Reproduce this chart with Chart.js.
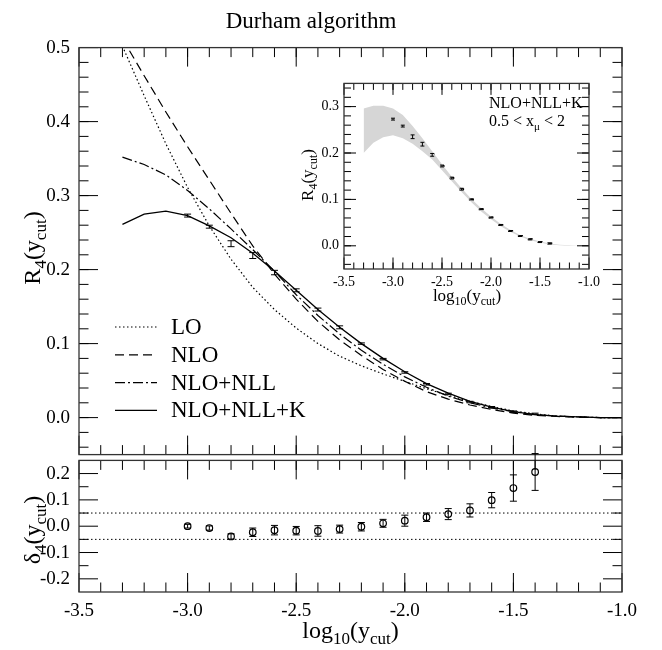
<!DOCTYPE html>
<html>
<head>
<meta charset="utf-8">
<script src="https://cdn.jsdelivr.net/npm/chart.js@4.4.0/dist/chart.umd.min.js"></script>
<style>
  html, body { margin: 0; padding: 0; background: #fff; }
  #wrap { position: relative; width: 662px; height: 650px; }
  canvas { position: absolute; }
  #mainChart { left: 0; top: 0; }
  #deltaChart { left: 0; top: 440px; }
  #insetChart { left: 280px; top: 70px; }
</style>
</head>
<body>
<div id="wrap">
  <canvas id="mainChart" width="662" height="475"></canvas>
  <canvas id="deltaChart" width="662" height="210"></canvas>
  <canvas id="insetChart" width="330" height="250"></canvas>
</div>
<script>
const FONT = '"Liberation Serif", "Times New Roman", serif';

// theory curves, log10(ycut) grid
const curveX = [-3.3, -3.2, -3.1, -3.0, -2.9, -2.8, -2.7, -2.6, -2.5, -2.4, -2.3, -2.2,
                -2.1, -2.0, -1.9, -1.8, -1.7, -1.6, -1.5, -1.4, -1.3, -1.2, -1.1, -1.0];
const loValues   = [0.502, 0.435, 0.370, 0.311, 0.259, 0.214, 0.176, 0.146, 0.121, 0.100, 0.083, 0.070,
                    0.059, 0.049, 0.039, 0.030, 0.022, 0.015, 0.009, 0.005, 0.002, 0.001, 0.000, 0.000];
const nloValues  = [0.512, 0.462, 0.413, 0.366, 0.321, 0.276, 0.232, 0.194, 0.160, 0.130, 0.105, 0.084,
                    0.065, 0.049, 0.035, 0.025, 0.017, 0.011, 0.006, 0.003, 0.0015, 0.0005, 0.000, 0.000];
const nllValues  = [0.352, 0.342, 0.328, 0.307, 0.282, 0.255, 0.227, 0.198, 0.166, 0.138, 0.113, 0.091,
                    0.072, 0.055, 0.041, 0.029, 0.020, 0.013, 0.008, 0.004, 0.002, 0.001, 0.000, 0.000];
const nllkValues = [0.261, 0.275, 0.279, 0.273, 0.259, 0.243, 0.222, 0.198, 0.172, 0.146, 0.122, 0.100,
                    0.080, 0.062, 0.046, 0.033, 0.022, 0.014, 0.008, 0.004, 0.002, 0.001, 0.000, 0.000];

// scale-variation band for the inset
const bandX    = [-3.3, -3.2, -3.1, -3.0, -2.9, -2.8, -2.7, -2.6, -2.5, -2.4, -2.3, -2.2,
                  -2.1, -2.0, -1.9, -1.8, -1.7, -1.6, -1.5, -1.4, -1.3, -1.2, -1.1];
const bandLow  = [0.200, 0.222, 0.234, 0.238, 0.232, 0.220, 0.204, 0.186, 0.163, 0.139, 0.116, 0.094,
                  0.074, 0.057, 0.042, 0.030, 0.020, 0.012, 0.007, 0.003, 0.001, 0.000, 0.000];
const bandHigh = [0.296, 0.302, 0.302, 0.296, 0.282, 0.258, 0.232, 0.204, 0.176, 0.149, 0.124, 0.101,
                  0.081, 0.063, 0.047, 0.034, 0.023, 0.015, 0.009, 0.005, 0.002, 0.001, 0.000];

// Monte Carlo points
const dataX = [-3.0, -2.9, -2.8, -2.7, -2.6, -2.5, -2.4, -2.3, -2.2, -2.1, -2.0, -1.9, -1.8, -1.7, -1.6, -1.5, -1.4];
const r4Values = [0.273, 0.258, 0.235, 0.219, 0.196, 0.172, 0.146, 0.122, 0.100, 0.079, 0.061, 0.045,
                  0.032, 0.021, 0.014, 0.008, 0.005];
const r4Errors = [0.002, 0.002, 0.004, 0.004, 0.003, 0.002, 0.002, 0.002, 0.001, 0.001, 0.001, 0.001,
                  0.001, 0.001, 0.001, 0.001, 0.001];
const deltaValues = [0.000, -0.007, -0.039, -0.023, -0.015, -0.017, -0.018, -0.011, -0.002, 0.011, 0.021, 0.034,
                     0.046, 0.060, 0.099, 0.145, 0.206];
const deltaErrors = [0.007, 0.008, 0.010, 0.016, 0.018, 0.016, 0.020, 0.015, 0.016, 0.015, 0.021, 0.016,
                     0.021, 0.025, 0.029, 0.050, 0.070];
const deltaBand = [-0.05, 0.05];

const xTickLabels = [-3.5, -3.0, -2.5, -2.0, -1.5, -1.0];
const r4TickLabels = [0.0, 0.1, 0.2, 0.3, 0.4, 0.5];
const deltaTickLabels = [-0.2, -0.1, 0.0, 0.1, 0.2];
const insetTickLabels = [0.0, 0.1, 0.2, 0.3];

const legendNames = ['LO', 'NLO', 'NLO+NLL', 'NLO+NLL+K'];

function pts(xs, ys) {
    return xs.map((x, i) => ({ x, y: ys[i] }));
}

function steps(from, to, step) {
    const out = [];
    for (let v = from; v <= to + 1e-9; v += step) out.push(Math.round(v * 1000) / 1000);
    return out;
}

const R4_TITLE = [['R', 0], ['4', 1], ['(y', 0], ['cut', 1], [')', 0]];
const DELTA_TITLE = [['δ', 0], ['4', 1], ['(y', 0], ['cut', 1], [')', 0]];
const LOG_TITLE = [['log', 0], ['10', 1], ['(y', 0], ['cut', 1], [')', 0]];

function drawRich(ctx, item) {
    const size = item.size;
    const fontOf = sub => `${sub ? Math.round(size * 0.7) : size}px ${FONT}`;
    ctx.save();
    ctx.translate(item.x, item.y);
    if (item.rotate) ctx.rotate(item.rotate);
    ctx.fillStyle = '#000';
    ctx.textBaseline = 'alphabetic';
    ctx.textAlign = 'left';
    let width = 0;
    item.parts.forEach(([text, sub]) => {
        ctx.font = fontOf(sub);
        width += ctx.measureText(text).width;
    });
    let cx = item.align === 'left' ? 0 : -width / 2;
    item.parts.forEach(([text, sub]) => {
        ctx.font = fontOf(sub);
        ctx.fillText(text, cx, sub ? size * 0.25 : 0);
        cx += ctx.measureText(text).width;
    });
    ctx.restore();
}

const richText = {
    id: 'richText',
    afterDraw(chart, args, opts) {
        (opts.items || []).forEach(item => drawRich(chart.ctx, item));
    }
};

// inward ticks on all four sides plus the frame
const frameTicks = {
    id: 'frameTicks',
    afterDatasetsDraw(chart, args, opts) {
        const { ctx, chartArea: a } = chart;
        const xs = chart.scales.x, ys = chart.scales.y;
        ctx.save();
        ctx.strokeStyle = '#000';
        ctx.lineWidth = 1;
        ctx.beginPath();
        const addX = (vals, len) => vals.forEach(v => {
            const p = xs.getPixelForValue(v);
            ctx.moveTo(p, a.bottom); ctx.lineTo(p, a.bottom - len);
            ctx.moveTo(p, a.top); ctx.lineTo(p, a.top + len);
        });
        const addY = (vals, len) => vals.forEach(v => {
            const p = ys.getPixelForValue(v);
            ctx.moveTo(a.left, p); ctx.lineTo(a.left + len, p);
            ctx.moveTo(a.right, p); ctx.lineTo(a.right - len, p);
        });
        addX(opts.xMinor, opts.minorX);
        addX(opts.xMajor, opts.majorX);
        addY(opts.yMinor, opts.minorY);
        addY(opts.yMajor, opts.majorY);
        ctx.stroke();
        ctx.strokeStyle = '#333';
        ctx.lineWidth = 1.3;
        ctx.strokeRect(a.left, a.top, a.right - a.left, a.bottom - a.top);
        ctx.restore();
    }
};

const errorBars = {
    id: 'errorBars',
    afterDatasetsDraw(chart) {
        const { ctx } = chart;
        const ys = chart.scales.y;
        chart.data.datasets.forEach((ds, i) => {
            if (!ds.errors) return;
            const meta = chart.getDatasetMeta(i);
            ctx.save();
            ctx.strokeStyle = '#000';
            ctx.lineWidth = 1;
            ctx.beginPath();
            meta.data.forEach((pt, j) => {
                const v = ds.data[j].y, e = ds.errors[j], c = ds.capSize;
                const top = ys.getPixelForValue(v + e);
                const bot = ys.getPixelForValue(v - e);
                ctx.moveTo(pt.x, top); ctx.lineTo(pt.x, bot);
                ctx.moveTo(pt.x - c, top); ctx.lineTo(pt.x + c, top);
                ctx.moveTo(pt.x - c, bot); ctx.lineTo(pt.x + c, bot);
            });
            ctx.stroke();
            ctx.restore();
        });
    }
};

const curveLegend = {
    id: 'curveLegend',
    afterDraw(chart, args, opts) {
        const { ctx } = chart;
        ctx.save();
        legendNames.forEach((name, i) => {
            const ds = chart.data.datasets[i];
            const y = opts.y + i * opts.rowH;
            ctx.strokeStyle = '#000';
            ctx.lineWidth = ds.borderWidth;
            ctx.setLineDash(ds.borderDash || []);
            ctx.beginPath();
            ctx.moveTo(opts.x, y);
            ctx.lineTo(opts.x + opts.lineLen, y);
            ctx.stroke();
            ctx.setLineDash([]);
            ctx.fillStyle = '#000';
            ctx.font = `23px ${FONT}`;
            ctx.textBaseline = 'middle';
            ctx.fillText(name, opts.x + opts.lineLen + 14, y + 1);
        });
        ctx.restore();
    }
};

const insetBackground = {
    id: 'insetBackground',
    beforeDatasetsDraw(chart) {
        const { ctx, chartArea: a } = chart;
        ctx.save();
        ctx.fillStyle = '#fff';
        ctx.fillRect(a.left, a.top, a.right - a.left, a.bottom - a.top);
        ctx.restore();
    }
};

function fixedTicks(values) {
    return scale => { scale.ticks = values.map(v => ({ value: v })); };
}

function curve(label, values, dash, width) {
    return {
        label,
        data: pts(curveX, values),
        borderColor: '#000',
        borderWidth: width,
        borderDash: dash,
        pointRadius: 0,
        tension: 0,
        fill: false
    };
}

const tickFont = { family: FONT, size: 19 };

new Chart(document.getElementById('mainChart'), {
    type: 'line',
    data: {
        datasets: [
            curve('LO', loValues, [1.5, 2.5], 1.2),
            curve('NLO', nloValues, [9, 5], 1.2),
            curve('NLO+NLL', nllValues, [10, 3, 2, 3], 1.2),
            curve('NLO+NLL+K', nllkValues, [], 1.3),
            {
                label: 'MC',
                data: pts(dataX, r4Values),
                errors: r4Errors,
                capSize: 3.5,
                showLine: false,
                pointRadius: 0
            }
        ]
    },
    options: {
        responsive: false,
        animation: false,
        devicePixelRatio: 1,
        layout: { padding: { left: 0, right: 40, top: 0, bottom: 0 } },
        scales: {
            x: {
                type: 'linear', min: -3.5, max: -1.0,
                ticks: { display: false },
                grid: { display: false, drawTicks: false },
                border: { display: false },
                afterFit: s => { s.height = 19; }
            },
            y: {
                type: 'linear', min: -0.05, max: 0.5,
                afterBuildTicks: fixedTicks(r4TickLabels),
                ticks: { callback: v => v.toFixed(1), font: tickFont, color: '#000', padding: 9 },
                grid: { display: false, drawTicks: false },
                border: { display: false },
                afterFit: s => { s.width = 79; }
            }
        },
        plugins: {
            legend: { display: false },
            tooltip: { enabled: false },
            title: {
                display: true,
                text: 'Durham algorithm',
                color: '#000',
                font: { family: FONT, size: 23, weight: 'normal' },
                padding: { top: 8, bottom: 12 }
            },
            frameTicks: {
                xMajor: xTickLabels, xMinor: steps(-3.4, -1.1, 0.1), majorX: 19, minorX: 9.5,
                yMajor: r4TickLabels, yMinor: steps(-0.04, 0.48, 0.02), majorY: 19, minorY: 9.5
            },
            curveLegend: { x: 115, y: 327, rowH: 27.8, lineLen: 42 },
            richText: { items: [{ parts: R4_TITLE, x: 40, y: 248, size: 24, rotate: -Math.PI / 2 }] }
        }
    },
    plugins: [frameTicks, errorBars, curveLegend, richText]
});

new Chart(document.getElementById('deltaChart'), {
    type: 'line',
    data: {
        datasets: deltaBand.map(v => ({
            label: 'band ' + v,
            data: [{ x: xTickLabels[0], y: v }, { x: xTickLabels[xTickLabels.length - 1], y: v }],
            borderColor: '#000',
            borderWidth: 1,
            borderDash: [1.5, 2.5],
            pointRadius: 0
        })).concat([{
            label: 'delta',
            data: pts(dataX, deltaValues),
            errors: deltaErrors,
            capSize: 3.5,
            showLine: false,
            pointStyle: 'circle',
            pointRadius: 3.3,
            pointBorderWidth: 1.2,
            pointBorderColor: '#000',
            pointBackgroundColor: 'rgba(255,255,255,0)'
        }])
    },
    options: {
        responsive: false,
        animation: false,
        devicePixelRatio: 1,
        layout: { padding: { left: 0, right: 40, top: 16, bottom: 0 } },
        scales: {
            x: {
                type: 'linear', min: -3.5, max: -1.0,
                afterBuildTicks: fixedTicks(xTickLabels),
                ticks: { callback: v => v.toFixed(1), font: tickFont, color: '#000', padding: 8, maxRotation: 0 },
                grid: { display: false, drawTicks: false },
                border: { display: false },
                afterFit: s => { s.height = 58; }
            },
            y: {
                type: 'linear', min: -0.25, max: 0.25,
                afterBuildTicks: fixedTicks(deltaTickLabels),
                ticks: { callback: v => v.toFixed(1), font: tickFont, color: '#000', padding: 9 },
                grid: { display: false, drawTicks: false },
                border: { display: false },
                afterFit: s => { s.width = 79; }
            }
        },
        plugins: {
            legend: { display: false },
            tooltip: { enabled: false },
            frameTicks: {
                xMajor: xTickLabels, xMinor: steps(-3.4, -1.1, 0.1), majorX: 19, minorX: 9.5,
                yMajor: deltaTickLabels, yMinor: [-0.15, -0.05, 0.05, 0.15], majorY: 19, minorY: 9.5
            },
            richText: {
                items: [
                    { parts: DELTA_TITLE, x: 40, y: 90, size: 24, rotate: -Math.PI / 2 },
                    { parts: LOG_TITLE, x: 350.5, y: 198, size: 24 }
                ]
            }
        }
    },
    plugins: [frameTicks, errorBars, richText]
});

const insetFont = { family: FONT, size: 14 };

new Chart(document.getElementById('insetChart'), {
    type: 'line',
    data: {
        datasets: [
            {
                label: 'low',
                data: pts(bandX, bandLow),
                borderWidth: 0,
                pointRadius: 0,
                fill: false
            },
            {
                label: 'high',
                data: pts(bandX, bandHigh),
                borderWidth: 0,
                pointRadius: 0,
                backgroundColor: '#d6d6d6',
                fill: '-1'
            },
            {
                label: 'MC',
                data: pts(dataX, r4Values),
                errors: r4Errors,
                capSize: 2,
                showLine: false,
                pointStyle: 'line',
                pointRadius: 2.5,
                pointBorderWidth: 2,
                pointBorderColor: '#000'
            }
        ]
    },
    options: {
        responsive: false,
        animation: false,
        devicePixelRatio: 1,
        layout: { padding: { left: 0, right: 21, top: 10, bottom: 0 } },
        scales: {
            x: {
                type: 'linear', min: -3.5, max: -1.0,
                afterBuildTicks: fixedTicks(xTickLabels),
                ticks: { callback: v => v.toFixed(1), font: insetFont, color: '#000', padding: 5, maxRotation: 0 },
                grid: { display: false, drawTicks: false },
                border: { display: false },
                afterFit: s => { s.height = 51; }
            },
            y: {
                type: 'linear', min: -0.05, max: 0.35,
                afterBuildTicks: fixedTicks(insetTickLabels),
                ticks: { callback: v => v.toFixed(1), font: insetFont, color: '#000', padding: 5 },
                grid: { display: false, drawTicks: false },
                border: { display: false },
                afterFit: s => { s.width = 64; }
            }
        },
        plugins: {
            legend: { display: false },
            tooltip: { enabled: false },
            filler: { propagate: false },
            frameTicks: {
                xMajor: xTickLabels, xMinor: steps(-3.4, -1.1, 0.1), majorX: 11.5, minorX: 6.5,
                yMajor: insetTickLabels, yMinor: steps(-0.04, 0.34, 0.02), majorY: 12, minorY: 7
            },
            richText: {
                items: [
                    { parts: R4_TITLE, x: 33, y: 105, size: 17, rotate: -Math.PI / 2 },
                    { parts: LOG_TITLE, x: 187, y: 231, size: 17 },
                    { parts: [['NLO+NLL+K', 0]], x: 209, y: 37.5, size: 16, align: 'left' },
                    { parts: [['0.5 < x', 0], ['μ', 1], [' < 2', 0]], x: 209, y: 55.5, size: 16, align: 'left' }
                ]
            }
        }
    },
    plugins: [insetBackground, frameTicks, errorBars, richText]
});
</script>
</body>
</html>
